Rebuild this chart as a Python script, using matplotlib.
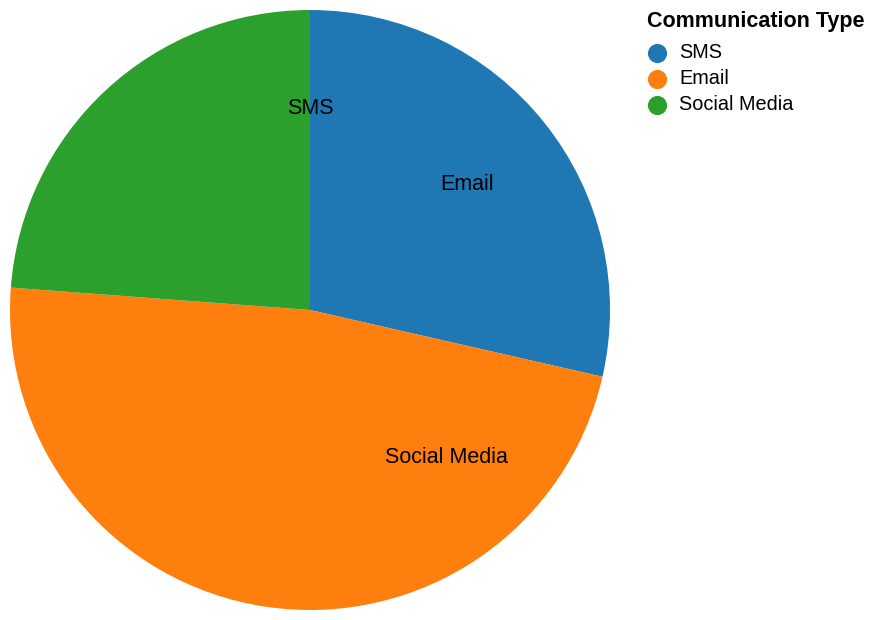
import matplotlib.pyplot as plt
import numpy as np

plt.rcParams['font.family'] = ['Liberation Sans', 'DejaVu Sans']

# data
types = ['SMS', 'Email', 'Social Media']
counts = [120, 200, 100]
colors = ['#1f77b4', '#ff7f0e', '#2ca02c']

fig = plt.figure(figsize=(8.8, 6.2), dpi=100)
ax = fig.add_axes([10 / 880, 10 / 620, 600 / 880, 600 / 620])

ax.pie(counts, colors=colors, startangle=90, counterclock=False,
       radius=1, wedgeprops={'linewidth': 0})
ax.set_xlim(-1, 1)
ax.set_ylim(-1, 1)
ax.set_aspect('equal')
ax.axis('off')

# the text labels sit at half the cumulative start angle (as in the source chart)
total = sum(counts)
starts = np.cumsum([0] + counts[:-1]) / total * 360
for name, st in zip(types, starts):
    a = np.radians(st / 2)
    r = 0.67
    ax.text(r * np.sin(a), r * np.cos(a), name, ha='center', va='center',
            fontsize=15.5, color='black')

# legend drawn by hand in pixel coords
lax = fig.add_axes([0, 0, 1, 1], facecolor='none')
lax.set_xlim(0, 880)
lax.set_ylim(620, 0)
lax.axis('off')
lax.text(647, 21, 'Communication Type', fontsize=15.5, fontweight='bold',
         ha='left', va='center')
for i, (name, c) in enumerate(zip(types, colors)):
    y = 53 + i * 26
    lax.scatter([657], [y], s=190, color=c, linewidths=0)
    lax.text(679, y, name, fontsize=14.3, ha='left', va='center')

fig.savefig('out.png', dpi=100)
